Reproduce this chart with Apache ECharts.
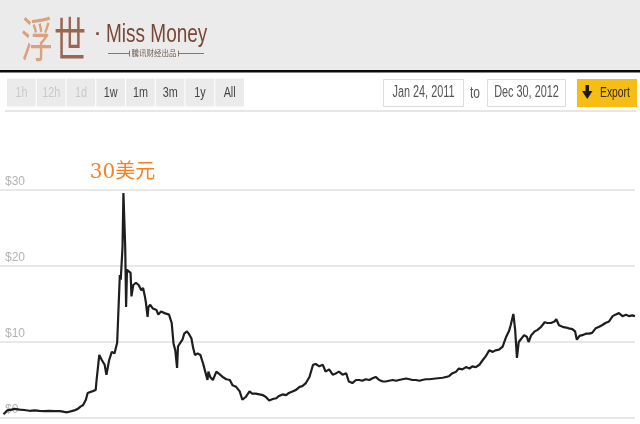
<!DOCTYPE html>
<html><head><meta charset="utf-8">
<script src="https://cdn.jsdelivr.net/npm/echarts@6/dist/echarts.min.js"></script>
<style>html,body{margin:0;padding:0;background:#fff}#c{width:640px;height:424px}</style>
</head><body><div id="c"></div>
<script>
// Days since Jan 24, 2011
const days = [0,4,9,12,18,23,29,35,40,46,51,57,63,68,71,76,79,83,86,89,92,94,96,99,103,104,106,107,110,113,115,118,121,124,127,128,130,131,133,134,136,137,138,140,142,143,145,148,151,154,156,158,159,161,162,164,167,171,173,176,180,182,185,188,190,192,194,195,197,200,202,205,207,210,212,214,217,220,223,225,228,229,231,234,238,242,245,249,253,256,260,264,267,271,275,278,282,286,290,293,297,301,305,308,312,316,319,323,327,331,334,338,342,346,349,353,357,360,364,368,372,375,379,383,386,390,394,398,401,405,409,412,416,420,424,427,431,435,439,442,446,450,454,457,461,465,468,472,476,483,491,498,502,506,509,513,517,521,524,528,532,535,539,543,547,550,554,558,562,565,567,570,572,574,576,578,582,585,587,590,594,597,601,605,608,612,616,618,621,625,629,632,636,639,641,644,647,651,655,658,662,666,669,673,677,681,684,688,692,696,699,703,706];
// Price in USD
const prices = [0.5,1.0,1.1,1.2,1.1,1.05,0.95,1.0,0.95,0.9,0.95,0.9,0.9,0.8,0.75,0.9,1.0,1.2,1.5,1.7,2.4,3.3,3.2,3.5,3.7,5.0,7.2,8.3,7.6,7.0,5.7,7.6,8.7,8.5,9.9,12.9,18.8,18.2,22.5,29.6,22.5,14.6,19.5,19.7,19.1,16.0,17.5,17.8,17.5,16.8,17.1,16.0,15.3,13.3,14.6,14.9,14.4,14.2,13.6,14.0,13.8,14.0,13.6,12.5,9.8,8.9,6.6,9.4,9.8,10.3,11.1,11.4,11.1,10.5,9.2,8.3,8.5,8.3,7.2,6.3,5.0,6.1,5.4,5.0,6.1,5.7,5.4,5.1,5.0,4.3,4.1,3.5,2.4,2.8,3.5,3.2,3.2,3.1,3.0,2.8,2.3,2.5,2.6,2.9,3.1,3.0,3.3,3.5,3.7,4.1,4.2,4.6,5.4,7.0,7.1,6.8,7.0,6.1,6.4,5.7,5.9,6.1,5.7,5.9,4.8,4.6,5.0,5.0,4.9,5.1,5.0,5.2,5.4,5.0,4.8,4.8,4.9,5.0,4.9,5.0,5.1,5.2,5.1,5.0,5.0,4.9,5.0,5.1,5.1,5.2,5.3,5.5,5.9,6.1,6.5,6.4,6.7,6.5,6.8,6.7,7.0,7.5,8.1,8.9,8.7,8.9,9.0,9.4,10.7,11.4,12.2,13.7,11.6,7.9,10.0,10.3,10.9,10.7,10.0,10.9,11.4,11.6,12.0,12.6,12.5,12.5,12.7,13.0,12.2,12.0,11.9,11.8,11.7,11.4,10.3,10.8,10.9,11.1,11.1,11.2,11.8,12.0,12.2,12.5,12.7,13.4,13.6,13.8,13.4,13.6,13.4,13.5,13.4];
const yTicks = [0, 10, 20, 30];
const rangeButtons = ['1h','12h','1d','1w','1m','3m','1y','All'];
const disabledButtons = ['1h','12h','1d'];
const fromDate = 'Jan 24, 2011';
const toDate = 'Dec 30, 2012';
const peakLabel = '30美元';

const SANS = "'Liberation Sans',Arial,sans-serif";
const chart = echarts.init(document.getElementById('c'));

const graphics = [
  {type:'rect', shape:{x:0,y:0,width:640,height:70}, style:{fill:'#ebebeb'}, silent:true},
  {type:'rect', shape:{x:0,y:70,width:640,height:2.5}, style:{fill:'#0a0a0a'}, silent:true},
  {type:'line', shape:{x1:5,y1:111,x2:636,y2:111}, style:{stroke:'#e6e6e6', lineWidth:2}},
  {type:'text', x:21, y:39, scaleY:1.5, style:{text:'浮', font:'32px "Noto Sans CJK SC"', fill:'#d9a17c', textVerticalAlign:'middle'}},
  {type:'text', x:54, y:39, scaleY:1.5, style:{text:'世', font:'32px "Noto Sans CJK SC"', fill:'#9a6650', textVerticalAlign:'middle'}},
  {type:'text', x:95, y:35, style:{text:'·', font:'bold 18px sans-serif', fill:'#7b4a3a', textVerticalAlign:'middle'}},
  {type:'text', x:106, y:35, scaleX:0.76, style:{text:'Miss Money', font:'25px ' + SANS, fill:'#7a4838', textVerticalAlign:'middle'}},
  {type:'line', shape:{x1:108,y1:53.5,x2:129,y2:53.5}, style:{stroke:'#8a7468', lineWidth:1}},
  {type:'line', shape:{x1:129.5,y1:50.5,x2:129.5,y2:56.5}, style:{stroke:'#8a7468', lineWidth:1}},
  {type:'text', x:154, y:53.5, style:{text:'騰讯财经出品', font:'7.5px "Noto Sans CJK TC"', fill:'#6d5a50', textAlign:'center', textVerticalAlign:'middle'}},
  {type:'line', shape:{x1:178.5,y1:50.5,x2:178.5,y2:56.5}, style:{stroke:'#8a7468', lineWidth:1}},
  {type:'line', shape:{x1:179,y1:53.5,x2:204,y2:53.5}, style:{stroke:'#8a7468', lineWidth:1}}
];
rangeButtons.forEach((b, i) => {
  const x = 7 + i * 29.75;
  graphics.push({type:'rect', shape:{x:x, y:78.5, width:28.75, height:28}, style:{fill:'#ebebeb'}});
  graphics.push({type:'text', x:x + 14.4, y:93, scaleX:0.72, style:{text:b, font:'15px ' + SANS, fill: disabledButtons.includes(b) ? '#c9c9c9' : '#444', textAlign:'center', textVerticalAlign:'middle'}});
});
graphics.push(
  {type:'rect', shape:{x:383.5,y:79.5,width:80,height:27}, style:{fill:'#fff', stroke:'#dcdcdc', lineWidth:1}},
  {type:'text', x:423.5, y:93, scaleX:0.68, style:{text:fromDate, font:'16px ' + SANS, fill:'#555', textAlign:'center', textVerticalAlign:'middle'}},
  {type:'text', x:475, y:94, scaleX:0.75, style:{text:'to', font:'16px ' + SANS, fill:'#555', textAlign:'center', textVerticalAlign:'middle'}},
  {type:'rect', shape:{x:487.5,y:79.5,width:78,height:27}, style:{fill:'#fff', stroke:'#dcdcdc', lineWidth:1}},
  {type:'text', x:526.5, y:93, scaleX:0.68, style:{text:toDate, font:'16px ' + SANS, fill:'#555', textAlign:'center', textVerticalAlign:'middle'}},
  {type:'rect', shape:{x:577,y:79,width:60,height:28}, style:{fill:'#f6be15'}},
  {type:'rect', shape:{x:585.5,y:85,width:3.5,height:7}, style:{fill:'#1a1a1a'}},
  {type:'polygon', shape:{points:[[582,91],[592.5,91],[587.25,99]]}, style:{fill:'#1a1a1a'}},
  {type:'text', x:600, y:93, scaleX:0.74, style:{text:'Export', font:'14px ' + SANS, fill:'#3a2c08', textVerticalAlign:'middle'}}
);

chart.setOption({
  animation: false,
  backgroundColor: '#fff',
  graphic: graphics,
  grid: {left:0, right:5, top:190, bottom:6},
  xAxis: {type:'value', min:-4, max:706, show:false},
  yAxis: {
    type:'value', min:yTicks[0], max:yTicks[yTicks.length-1], interval:10,
    axisLine:{show:false}, axisTick:{show:false},
    splitLine:{lineStyle:{color:'#e8e8e8', width:2}},
    axisLabel:{inside:true, margin:5, verticalAlign:'bottom', padding:[0,0,2,0], color:'#b3b3b3', fontSize:12, fontFamily:SANS, formatter: v => '$' + v}
  },
  series: [{
    type:'line', data: days.map((d, i) => [d, prices[i]]),
    showSymbol:false, lineStyle:{color:'#1e1e1e', width:2.2}, z:5,
    markPoint:{
      symbol:'circle', symbolSize:0,
      data:[{type:'max'}],
      label:{show:true, position:'top', distance:10, offset:[-1,0], formatter: peakLabel, color:'#f5821f', fontSize:20, fontFamily:"'DejaVu Serif','Noto Sans CJK SC',serif"}
    }
  }]
});
</script></body></html>
